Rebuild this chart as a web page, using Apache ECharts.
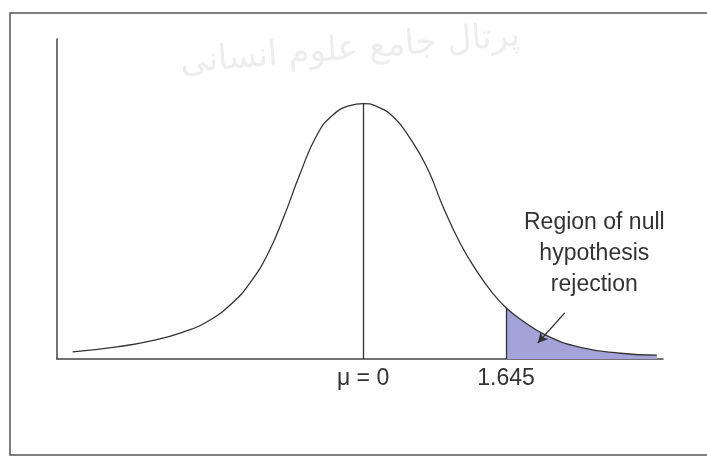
<!DOCTYPE html>
<html>
<head>
<meta charset="utf-8">
<script src="https://cdn.jsdelivr.net/npm/echarts@6/dist/echarts.min.js"></script>
<style>
    html, body { margin: 0; padding: 0; background: #fff; }
    #chart { width: 707px; height: 458px; }
</style>
</head>
<body>
<div id="chart"></div>
<script>
// z values (standard deviations from the mean)
var zValues = [-3.34, -2.83, -2.45, -2.07, -1.76, -1.50, -1.30, -1.10, -0.92, -0.72, -0.53, -0.35, -0.15, 0,
               0.15, 0.35, 0.54, 0.74, 0.92, 1.12, 1.31, 1.49, 1.645, 1.81, 2.12, 2.50, 2.96, 3.38];
// curve height
var density = [0.011, 0.019, 0.028, 0.042, 0.061, 0.088, 0.119, 0.163, 0.219, 0.291, 0.350, 0.381, 0.396, 0.399,
               0.395, 0.378, 0.345, 0.298, 0.238, 0.180, 0.137, 0.103, 0.080, 0.062, 0.036, 0.018, 0.009, 0.006];
var meanValue = 0;
var criticalValue = 1.645;
var tickLabels = ['\u03bc = 0', '1.645'];
var regionText = ['Region of null', 'hypothesis', 'rejection'];
var arrowFrom = [2.32, 0.072];
var arrowTo = [2.01, 0.025];
var watermark = 'پرتال جامع علوم انسانی';

var curve = zValues.map(function (z, i) { return [z, density[i]]; });
var critIndex = zValues.indexOf(criticalValue);
var tail = curve.slice(critIndex);
var meanIndex = zValues.indexOf(meanValue);

var textColor = '#333';
var font = '"Liberation Sans", Arial, sans-serif';

var chart = echarts.init(document.getElementById('chart'));
chart.setOption({
    backgroundColor: '#fff',
    animation: false,
    grid: { left: 57, right: 44, top: 39, bottom: 99 },
    graphic: [
        {
            type: 'rect',
            shape: { x: 10, y: 13, width: 720, height: 442 },
            style: { fill: 'none', stroke: '#555', lineWidth: 1.5 },
            z: -1
        },
        {
            type: 'text',
            x: 350, y: 50, rotation: 0.08,
            style: {
                text: watermark, fill: '#ededed',
                font: '34px "DejaVu Sans", "Noto Sans", sans-serif',
                align: 'center', verticalAlign: 'middle'
            },
            z: -2
        }
    ],
    xAxis: {
        type: 'value',
        min: -3.52,
        max: 3.45,
        splitLine: { show: false },
        axisLine: { onZero: false, lineStyle: { color: '#444', width: 1.5 } },
        axisTick: { show: false },
        axisLabel: {
            customValues: [meanValue, criticalValue],
            formatter: function (v) { return Math.abs(v - meanValue) < 1e-9 ? tickLabels[0] : tickLabels[1]; },
            color: textColor,
            fontSize: 23,
            fontFamily: font,
            margin: 8
        }
    },
    yAxis: {
        type: 'value',
        min: 0,
        max: 0.5,
        splitLine: { show: false },
        axisLine: { show: true, onZero: false, lineStyle: { color: '#444', width: 1.5 } },
        axisTick: { show: false },
        axisLabel: { show: false }
    },
    series: [
        {
            name: 'rejection',
            type: 'line',
            data: tail,
            smooth: 0.5,
            symbol: 'none',
            lineStyle: { width: 0 },
            areaStyle: { color: '#a3a3d9', opacity: 1 },
            z: 1
        },
        {
            name: 'curve',
            type: 'line',
            data: curve,
            smooth: 0.5,
            symbol: 'none',
            lineStyle: { color: '#333', width: 1.3 },
            z: 3,
            markLine: {
                silent: true,
                symbol: 'none',
                label: { show: false },
                lineStyle: { color: '#333', width: 1.3, type: 'solid' },
                data: [
                    [{ coord: [meanValue, 0] }, { coord: [meanValue, density[meanIndex]] }],
                    [{ coord: [criticalValue, 0] }, { coord: [criticalValue, density[critIndex]] }]
                ]
            },
            markPoint: {
                silent: true,
                symbol: 'circle',
                symbolSize: 1,
                itemStyle: { color: 'rgba(0,0,0,0)' },
                data: [{
                    coord: [2.66, 0.165],
                    label: {
                        show: true,
                        formatter: regionText.join('\n'),
                        color: textColor,
                        fontSize: 23,
                        lineHeight: 31,
                        fontFamily: font,
                        align: 'center',
                        verticalAlign: 'middle',
                        position: 'inside'
                    }
                }]
            }
        },
        {
            name: 'arrow',
            type: 'line',
            data: [],
            markLine: {
                silent: true,
                symbol: ['none', 'arrow'],
                symbolSize: [8, 10],
                label: { show: false },
                lineStyle: { color: '#333', width: 1.3, type: 'solid' },
                data: [[{ coord: arrowFrom }, { coord: arrowTo }]]
            }
        }
    ]
});
</script>
</body>
</html>
